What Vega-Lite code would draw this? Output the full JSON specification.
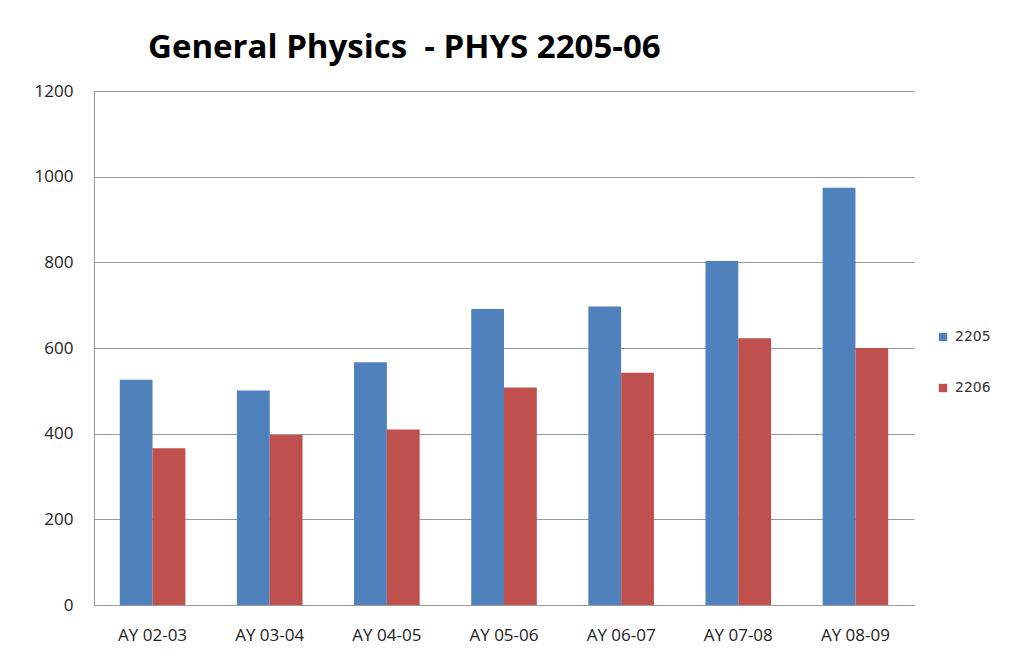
{
  "$schema": "https://vega.github.io/schema/vega-lite/v6.json",
  "autosize": "none",
  "width": 820,
  "height": 514,
  "padding": {"left": 94, "top": 91, "right": 96, "bottom": 64},
  "background": "white",
  "title": {
    "text": "General Physics \u00a0- PHYS 2205-06",
    "anchor": "start",
    "frame": "group",
    "dx": 54,
    "offset": 17,
    "font": "Open Sans",
    "fontSize": 33,
    "fontWeight": "bold",
    "color": "#000000"
  },
  "data": {
    "values": [
      {"year": "AY 02-03", "course": "2205", "value": 526},
      {"year": "AY 02-03", "course": "2206", "value": 366},
      {"year": "AY 03-04", "course": "2205", "value": 501},
      {"year": "AY 03-04", "course": "2206", "value": 397},
      {"year": "AY 04-05", "course": "2205", "value": 567},
      {"year": "AY 04-05", "course": "2206", "value": 410},
      {"year": "AY 05-06", "course": "2205", "value": 691},
      {"year": "AY 05-06", "course": "2206", "value": 508},
      {"year": "AY 06-07", "course": "2205", "value": 697},
      {"year": "AY 06-07", "course": "2206", "value": 542},
      {"year": "AY 07-08", "course": "2205", "value": 803},
      {"year": "AY 07-08", "course": "2206", "value": 623},
      {"year": "AY 08-09", "course": "2205", "value": 974},
      {"year": "AY 08-09", "course": "2206", "value": 600}
    ]
  },
  "mark": {"type": "bar"},
  "encoding": {
    "x": {
      "field": "year",
      "type": "nominal",
      "sort": null,
      "scale": {"paddingInner": 0.44, "paddingOuter": 0.22},
      "axis": {
        "title": null,
        "labelAngle": 0,
        "labelFont": "Open Sans",
        "labelFontSize": 17,
        "labelColor": "#222222",
        "labelPadding": 22,
        "domainColor": "#999999",
        "ticks": false
      }
    },
    "xOffset": {"field": "course", "type": "nominal", "sort": ["2205", "2206"], "scale": {"paddingInner": 0}},
    "y": {
      "field": "value",
      "type": "quantitative",
      "scale": {"domain": [0, 1200], "nice": false},
      "axis": {
        "title": null,
        "format": "d",
        "values": [0, 200, 400, 600, 800, 1000, 1200],
        "labelFont": "Open Sans",
        "labelFontSize": 17,
        "labelColor": "#222222",
        "labelPadding": 21,
        "ticks": false,
        "domain": true,
        "domainColor": "#999999",
        "gridColor": "#999999",
        "gridWidth": 1
      }
    },
    "color": {
      "field": "course",
      "type": "nominal",
      "scale": {"domain": ["2205", "2206"], "range": ["#4F81BD", "#C0504D"]},
      "legend": {
        "title": null,
        "orient": "none",
        "legendX": 842,
        "legendY": 239,
        "symbolType": "square",
        "symbolSize": 70,
        "symbolStrokeWidth": 0,
        "labelFont": "DejaVu Sans",
        "labelFontSize": 14,
        "labelColor": "#333333",
        "rowPadding": 37,
        "labelOffset": 5
      }
    }
  },
  "config": {
    "view": {"stroke": null}
  }
}
